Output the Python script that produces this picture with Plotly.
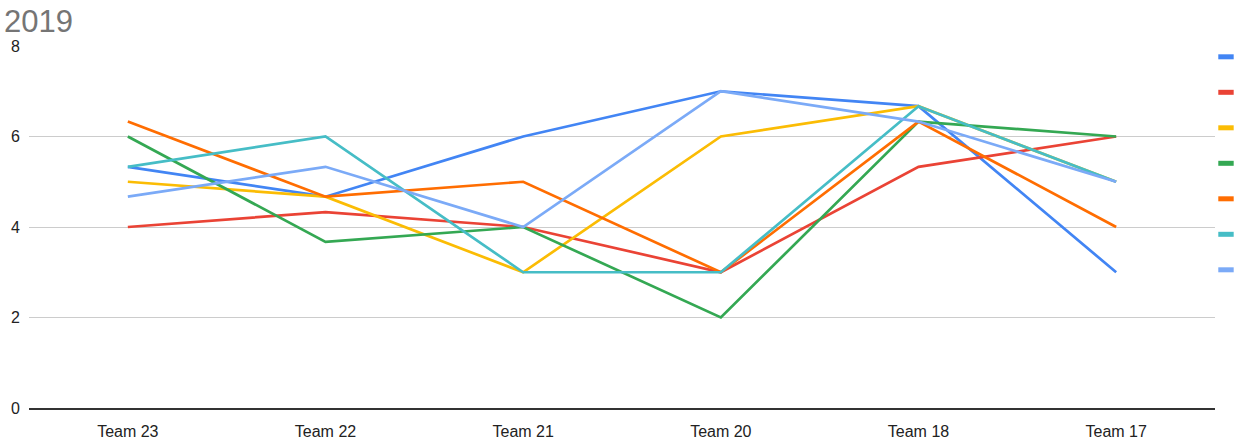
import plotly.graph_objects as go

# Team ratings for 2019, one series per question
teams = ["Team 23", "Team 22", "Team 21", "Team 20", "Team 18", "Team 17"]

series_a = [5.33, 4.67, 6, 7, 6.67, 3]
series_b = [4, 4.33, 4, 3, 5.33, 6]
series_c = [5, 4.67, 3, 6, 6.67, 5]
series_d = [6, 3.67, 4, 2, 6.33, 6]
series_e = [6.33, 4.67, 5, 3, 6.33, 4]
series_f = [5.33, 6, 3, 3, 6.67, 5]
series_g = [4.67, 5.33, 4, 7, 6.33, 5]

all_series = [series_a, series_b, series_c, series_d, series_e, series_f, series_g]
colors = ["#4285F4", "#EA4335", "#FBBC04", "#34A853", "#FF6D01", "#46BDC6", "#7BAAF7"]

fig = go.Figure()

for vals, col in zip(all_series, colors):
    fig.add_trace(go.Scatter(
        x=teams, y=vals, mode="lines",
        line=dict(color=col, width=2.7),
        showlegend=False, hoverinfo="skip",
    ))

# Legend keys: short thick colour bars
for col in colors:
    fig.add_trace(go.Scatter(
        x=[None], y=[None], mode="markers", name=" ",
        marker=dict(symbol="line-ew", size=11, color=col,
                    line=dict(color=col, width=5)),
        showlegend=True,
    ))

fig.update_layout(
    width=1247, height=445,
    margin=dict(l=29, r=32, t=46, b=37, autoexpand=False),
    paper_bgcolor="white", plot_bgcolor="white",
    font=dict(family="Liberation Sans, Arial, sans-serif", size=16, color="#222222"),
    title=dict(text="2019", x=4 / 1247, xanchor="left", xref="container",
               y=1 - 21 / 445, yanchor="middle", yref="container",
               font=dict(size=31, color="#757575")),
    legend=dict(x=0.9924, xanchor="left", y=1.033, yanchor="top",
                font=dict(size=25, color="rgba(0,0,0,0)"),
                itemsizing="trace", bgcolor="rgba(0,0,0,0)",
                maxheight=420),
    xaxis=dict(range=[-0.5, 5.5], showgrid=False, showline=True,
               linecolor="#333333", linewidth=1.5, ticks="",
               ticklabelstandoff=8, tickfont=dict(size=16, color="#222222")),
    yaxis=dict(range=[0, 8], tickvals=[0, 2, 4, 6, 8], showgrid=True,
               gridcolor="#cccccc", gridwidth=1, zeroline=False, showline=False,
               ticks="", ticklabelstandoff=8,
               tickfont=dict(size=16, color="#222222")),
    hovermode=False,
)

fig.write_html("out.html")
